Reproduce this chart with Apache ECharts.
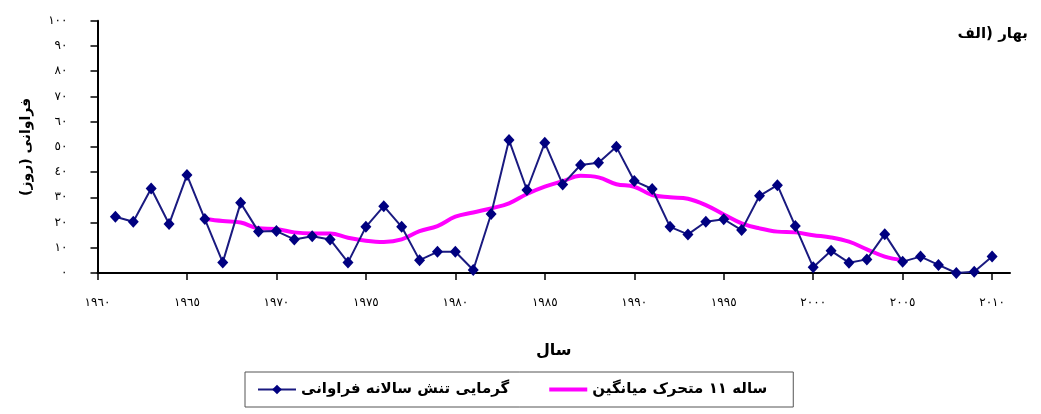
<!DOCTYPE html>
<html>
<head>
<meta charset="utf-8">
<script src="https://cdn.jsdelivr.net/npm/echarts@6/dist/echarts.min.js"></script>
<style>
html,body{margin:0;padding:0;background:#fff;}
#chart{width:1041px;height:414px;}
</style>
</head>
<body>
<div id="chart"></div>
<script>
var years = [1961,1962,1963,1964,1965,1966,1967,1968,1969,1970,
             1971,1972,1973,1974,1975,1976,1977,1978,1979,1980,
             1981,1982,1983,1984,1985,1986,1987,1988,1989,1990,
             1991,1992,1993,1994,1995,1996,1997,1998,1999,2000,
             2001,2002,2003,2004,2005,2006,2007,2008,2009,2010];
var heatFreq = [22.3,20.3,33.5,19.4,38.8,21.4,4.2,27.8,16.4,16.6,
                13.3,14.6,13.3,4.2,18.3,26.5,18.3,5.1,8.4,8.4,
                1.2,23.4,52.7,32.9,51.6,35.1,42.8,43.7,50.0,36.5,
                33.3,18.3,15.3,20.3,21.3,17.0,30.6,34.8,18.6,2.3,
                8.8,4.1,5.4,15.4,4.5,6.5,3.2,0.0,0.5,6.5];
var maYears = [1966,1967,1968,1969,1970,1971,1972,1973,1974,1975,
               1976,1977,1978,1979,1980,1981,1982,1983,1984,1985,
               1986,1987,1988,1989,1990,1991,1992,1993,1994,1995,
               1996,1997,1998,1999,2000,2001,2002,2003,2004,2005];
var movingAvg = [21.4,20.6,20.0,17.7,17.4,16.1,15.7,15.7,14.0,12.8,
                 12.3,13.3,16.6,18.6,22.3,24.0,25.6,27.6,31.3,34.2,
                 36.4,38.5,37.9,35.2,34.2,30.9,30.0,29.4,26.9,23.2,
                 19.7,17.7,16.4,16.1,15.0,14.1,12.4,9.4,6.5,5.1];
var xTickValues = [1960,1965,1970,1975,1980,1985,1990,1995,2000,2005,2010];
var xTickLabels = ['١٩٦٠','١٩٦٥','١٩٧٠','١٩٧٥','١٩٨٠','١٩٨٥','١٩٩٠','١٩٩٥','٢٠٠٠','٢٠٠٥','٢٠١٠'];
var yTickValues = [0,10,20,30,40,50,60,70,80,90,100];
var yTickLabels = ['٠','١٠','٢٠','٣٠','٤٠','٥٠','٦٠','٧٠','٨٠','٩٠','١٠٠'];

var seriesNames = ['فراوانی سالانه تنش گرمایی', 'میانگین متحرک ۱۱ ساله'];
var titleWords = ['الف', ')', ' بهار'];
var xName = 'سال';
var yName = 'فراوانی (روز)\u200F';

var FONT = '"DejaVu Sans", sans-serif';

function pair(xs, ys){ return xs.map(function(x,i){ return [x, ys[i]]; }); }
// lay words out left-to-right, each drawn as its own text run (as in the reference)
function wordsLTR(words, style){ return words.map(function(w){ return '{' + style + '|' + w + '}'; }).join(''); }

var legendStyle = {fontFamily: FONT, fontSize: 15, fontWeight: 'bold', color: '#000'};
var titleStyle = {fontFamily: FONT, fontSize: 15, fontWeight: 'bold', color: '#000'};

var chart = echarts.init(document.getElementById('chart'), null, {renderer:'canvas'});
chart.setOption({
  animation: false,
  backgroundColor: '#ffffff',
  title: {
    text: wordsLTR(titleWords, 't'),
    right: 8, top: 22,
    textStyle: Object.assign({}, titleStyle, {rich: {t: titleStyle}})
  },
  legend: {
    data: [
      {name: seriesNames[0]},
      {name: seriesNames[1], icon: 'path://M0,0 L40,0 L40,4 L0,4 Z'}
    ],
    formatter: function(name){
      var ws = name.split(' ');
      return ws.map(function(w, i){ return '{l|' + (i > 0 ? ' ' : '') + w + '}'; }).join('');
    },
    left: 245, top: 372,
    itemWidth: 38, itemHeight: 12, itemGap: 40,
    padding: [10, 26, 10, 12],
    borderColor: '#555', borderWidth: 1,
    textStyle: Object.assign({}, legendStyle, {rich: {l: legendStyle}})
  },
  grid: {left: 97.5, right: 31, top: 20.7, bottom: 141},
  xAxis: {
    type: 'value', min: 1960, max: 2011, interval: 5,
    name: xName, nameLocation: 'middle', nameGap: 70,
    nameTextStyle: {fontFamily: FONT, fontSize: 16, fontWeight: 'bold', color: '#000'},
    axisLine: {show: true, lineStyle: {color: '#000', width: 2}},
    axisTick: {show: true, inside: false, length: 7, customValues: xTickValues, lineStyle: {color: '#000', width: 1.5}},
    axisLabel: {
      customValues: xTickValues, margin: 24,
      fontFamily: FONT, fontSize: 12, color: '#000',
      formatter: function(v){ var i = xTickValues.indexOf(v); return i >= 0 ? xTickLabels[i] : ''; }
    },
    splitLine: {show: false}
  },
  yAxis: {
    type: 'value', min: 0, max: 100, interval: 10,
    name: yName, nameLocation: 'middle', nameGap: 64, nameRotate: 90,
    nameTextStyle: {fontFamily: FONT, fontSize: 14, fontWeight: 'bold', color: '#000'},
    axisLine: {show: true, lineStyle: {color: '#000', width: 2}},
    axisTick: {show: true, inside: false, length: 7, lineStyle: {color: '#000', width: 1.5}},
    axisLabel: {
      margin: 30, fontFamily: FONT, fontSize: 12, color: '#000',
      formatter: function(v){ var i = yTickValues.indexOf(v); return i >= 0 ? yTickLabels[i] : ''; }
    },
    splitLine: {show: false}
  },
  series: [
    {
      name: seriesNames[0], type: 'line', z: 3,
      data: pair(years, heatFreq),
      symbol: 'diamond', symbolSize: [11, 12],
      itemStyle: {color: '#000080'},
      lineStyle: {color: '#1a1a80', width: 2}
    },
    {
      name: seriesNames[1], type: 'line', z: 1,
      data: pair(maYears, movingAvg),
      symbol: 'none', smooth: 0.4,
      itemStyle: {color: '#ff00ff'},
      lineStyle: {color: '#ff00ff', width: 4}
    }
  ]
});
</script>
</body>
</html>
